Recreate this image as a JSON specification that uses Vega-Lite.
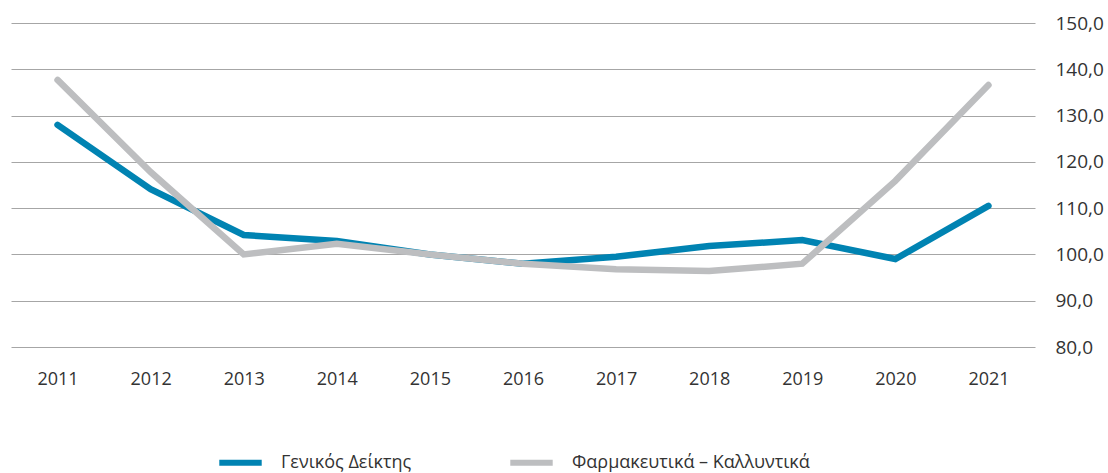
{
  "$schema": "https://vega.github.io/schema/vega-lite/v6.json",
  "width": 1024,
  "height": 324,
  "autosize": {"type": "none"},
  "padding": {"left": 11, "top": 23, "right": 73, "bottom": 126},
  "background": "white",
  "config": {
    "view": {"stroke": null},
    "font": "Open Sans"
  },
  "data": {
    "values": [
      {"year": "2011", "series": "Γενικός Δείκτης", "value": 128.0},
      {"year": "2012", "series": "Γενικός Δείκτης", "value": 114.1},
      {"year": "2013", "series": "Γενικός Δείκτης", "value": 104.2},
      {"year": "2014", "series": "Γενικός Δείκτης", "value": 102.9},
      {"year": "2015", "series": "Γενικός Δείκτης", "value": 100.0},
      {"year": "2016", "series": "Γενικός Δείκτης", "value": 98.0},
      {"year": "2017", "series": "Γενικός Δείκτης", "value": 99.5},
      {"year": "2018", "series": "Γενικός Δείκτης", "value": 101.8},
      {"year": "2019", "series": "Γενικός Δείκτης", "value": 103.1},
      {"year": "2020", "series": "Γενικός Δείκτης", "value": 99.0},
      {"year": "2021", "series": "Γενικός Δείκτης", "value": 110.5},
      {"year": "2011", "series": "Φαρμακευτικά – Καλλυντικά", "value": 137.7},
      {"year": "2012", "series": "Φαρμακευτικά – Καλλυντικά", "value": 117.8},
      {"year": "2013", "series": "Φαρμακευτικά – Καλλυντικά", "value": 100.0},
      {"year": "2014", "series": "Φαρμακευτικά – Καλλυντικά", "value": 102.3},
      {"year": "2015", "series": "Φαρμακευτικά – Καλλυντικά", "value": 100.0},
      {"year": "2016", "series": "Φαρμακευτικά – Καλλυντικά", "value": 98.0},
      {"year": "2017", "series": "Φαρμακευτικά – Καλλυντικά", "value": 96.8},
      {"year": "2018", "series": "Φαρμακευτικά – Καλλυντικά", "value": 96.4},
      {"year": "2019", "series": "Φαρμακευτικά – Καλλυντικά", "value": 98.0},
      {"year": "2020", "series": "Φαρμακευτικά – Καλλυντικά", "value": 115.9},
      {"year": "2021", "series": "Φαρμακευτικά – Καλλυντικά", "value": 136.6}
    ]
  },
  "mark": {"type": "line", "strokeWidth": 6.5, "strokeCap": "round", "strokeJoin": "miter"},
  "encoding": {
    "x": {
      "field": "year",
      "type": "ordinal",
      "scale": {"type": "point", "padding": 0.5},
      "axis": {
        "title": null,
        "labelAngle": 0,
        "domain": false,
        "ticks": false,
        "grid": false,
        "labelFontSize": 18,
        "labelColor": "#333333",
        "labelPadding": 23
      }
    },
    "y": {
      "field": "value",
      "type": "quantitative",
      "scale": {"domain": [80, 150], "nice": false, "zero": false},
      "axis": {
        "orient": "right",
        "title": null,
        "values": [80, 90, 100, 110, 120, 130, 140, 150],
        "labelExpr": "replace(format(datum.value, '.1f'), '.', ',')",
        "domain": false,
        "ticks": false,
        "grid": true,
        "gridColor": "#a6a6a6",
        "gridWidth": 1,
        "labelFontSize": 19,
        "labelColor": "#333333",
        "labelPadding": 20
      }
    },
    "color": {
      "field": "series",
      "type": "nominal",
      "scale": {
        "domain": ["Γενικός Δείκτης", "Φαρμακευτικά – Καλλυντικά"],
        "range": ["#0083B2", "#BDBEC0"]
      },
      "legend": {
        "title": null,
        "orient": "none",
        "legendX": 205,
        "legendY": 415,
        "direction": "horizontal",
        "symbolType": "stroke",
        "symbolStrokeWidth": 6,
        "symbolSize": 1800,
        "labelFontSize": 18,
        "labelColor": "#333333",
        "labelOffset": 16,
        "labelLimit": 400,
        "columnPadding": 86
      }
    }
  }
}
